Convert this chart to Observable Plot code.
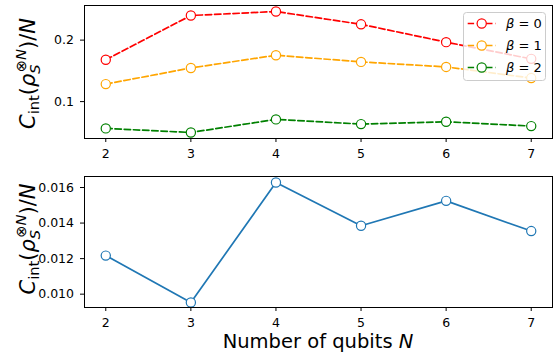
<!DOCTYPE html>
<html><head><meta charset="utf-8">
<script src="https://cdn.jsdelivr.net/npm/d3@7"></script>
<script src="https://cdn.jsdelivr.net/npm/@observablehq/plot@0.6"></script>
<style>
body{margin:0;background:#fff;}
#chart{position:relative;width:553px;height:353px;overflow:hidden;background:#fff;}
#chart svg{position:absolute;left:0;display:block;}
</style></head><body><div id="chart"></div>
<script>
const qubits=[2,3,4,5,6,7];
const betaLabels=["0","1","2"];
const beta0=[0.168,0.240,0.2465,0.2257,0.1967,0.1695];
const beta1=[0.1285,0.1547,0.1754,0.1646,0.1564,0.1383];
const beta2=[0.0564,0.0498,0.0711,0.0634,0.0672,0.0602];
const cint=[0.01217,0.00953,0.01628,0.01385,0.01525,0.01355];
const seriesColors=["red","orange","green"];
const lineColor="#1f77b4";
const xTicks=[2,3,4,5,6,7];
const topTicks=[0.1,0.2];
const bottomTicks=[0.010,0.012,0.014,0.016];
const xLabel="Number of qubits ";

const topRows=[beta0,beta1,beta2].flatMap((vals,i)=>vals.map((v,j)=>({N:qubits[j],v,series:betaLabels[i]})));
const botRows=cint.map((v,j)=>({N:qubits[j],v}));
const font="'DejaVu Sans', sans-serif";
const W=553;
const xDom=[1.75,7.25];
const dash="6.4,2.8";
const styleObj={fontFamily:font,fontSize:"12.5px",color:"#000",background:"transparent",overflow:"visible"};

const topPlot=Plot.plot({width:W,height:160,marginTop:5,marginBottom:22,marginLeft:84,marginRight:1,
 style:styleObj,
 x:{domain:xDom},
 y:{domain:[0.0400,0.2563]},
 color:{domain:betaLabels,range:seriesColors},
 marks:[
  Plot.line(topRows,{x:"N",y:"v",z:"series",stroke:"series",strokeWidth:1.7,strokeDasharray:dash}),
  Plot.dot(topRows,{x:"N",y:"v",stroke:"series",fill:"white",r:4.6,strokeWidth:1.2}),
  Plot.axisX({ticks:xTicks,tickSize:4,tickPadding:7,label:null,tickFormat:d=>String(d)}),
  Plot.axisY({ticks:topTicks,tickSize:4,tickPadding:6.5,label:null,tickFormat:".1f"}),
  Plot.frame({stroke:"#000",strokeWidth:1})
 ]});

const botPlot=Plot.plot({width:W,height:193,marginTop:16,marginBottom:46,marginLeft:84,marginRight:1,
 style:styleObj,
 x:{domain:xDom},
 y:{domain:[0.00925,0.01662]},
 marks:[
  Plot.line(botRows,{x:"N",y:"v",stroke:lineColor,strokeWidth:1.7}),
  Plot.dot(botRows,{x:"N",y:"v",stroke:lineColor,fill:"white",r:4.6,strokeWidth:1.2}),
  Plot.axisX({ticks:xTicks,tickSize:4,tickPadding:7,label:null,tickFormat:d=>String(d)}),
  Plot.axisY({ticks:bottomTicks,tickSize:4,tickPadding:6.5,label:null,tickFormat:".3f"}),
  Plot.frame({stroke:"#000",strokeWidth:1})
 ]});

const chart=document.getElementById("chart");
topPlot.style.top="0px";
botPlot.style.top="160px";
chart.appendChild(topPlot);
chart.appendChild(botPlot);

function ylabel(svg,cx,cy){
  const t=d3.select(svg).append("text")
    .attr("transform",`translate(${cx},${cy}) rotate(-90)`)
    .attr("text-anchor","middle")
    .attr("font-family",font).attr("font-size",21).attr("fill","#000");
  t.append("tspan").attr("font-style","italic").text("C");
  t.append("tspan").attr("font-size",14.7).attr("dy",4).text("int");
  t.append("tspan").attr("dy",-4).text("(");
  t.append("tspan").attr("font-style","italic").text("ρ");
  t.append("tspan").attr("font-style","italic").attr("font-size",14.7).attr("dy",5).text("S");
  t.append("tspan").attr("font-size",14.7).attr("dx",-8).attr("dy",-14).text("⊗");
  t.append("tspan").attr("font-size",14.7).attr("font-style","italic").text("N");
  t.append("tspan").attr("dy",9).text(")/");
  t.append("tspan").attr("font-style","italic").text("N");
}
ylabel(topPlot,35,73.5);
ylabel(botPlot,35,79);

// x label
const xl=d3.select(botPlot).append("text").attr("x",318).attr("y",188)
  .attr("text-anchor","middle").attr("font-family",font).attr("font-size",19.5).attr("fill","#000");
xl.append("tspan").text(xLabel);
xl.append("tspan").attr("font-style","italic").text("N");

// legend
const lg=d3.select(topPlot).append("g");
lg.append("rect").attr("x",463.5).attr("y",12.5).attr("width",82).attr("height",68).attr("rx",3)
  .attr("fill","white").attr("fill-opacity",0.8).attr("stroke","#ccc").attr("stroke-width",1);
betaLabels.forEach((b,i)=>{
  const y=23.5+i*22;
  lg.append("line").attr("x1",467.7).attr("x2",495.7).attr("y1",y).attr("y2",y)
    .attr("stroke",seriesColors[i]).attr("stroke-width",1.7).attr("stroke-dasharray",dash);
  lg.append("circle").attr("cx",481.7).attr("cy",y).attr("r",4.6).attr("fill","white")
    .attr("stroke",seriesColors[i]).attr("stroke-width",1.2);
  const tx=lg.append("text").attr("x",506).attr("y",y+4.5).attr("text-anchor","start")
    .attr("font-family",font).attr("font-size",13).attr("fill","#000");
  tx.append("tspan").attr("font-style","italic").text("β");
  tx.append("tspan").text(" = "+b);
});
</script></body></html>
